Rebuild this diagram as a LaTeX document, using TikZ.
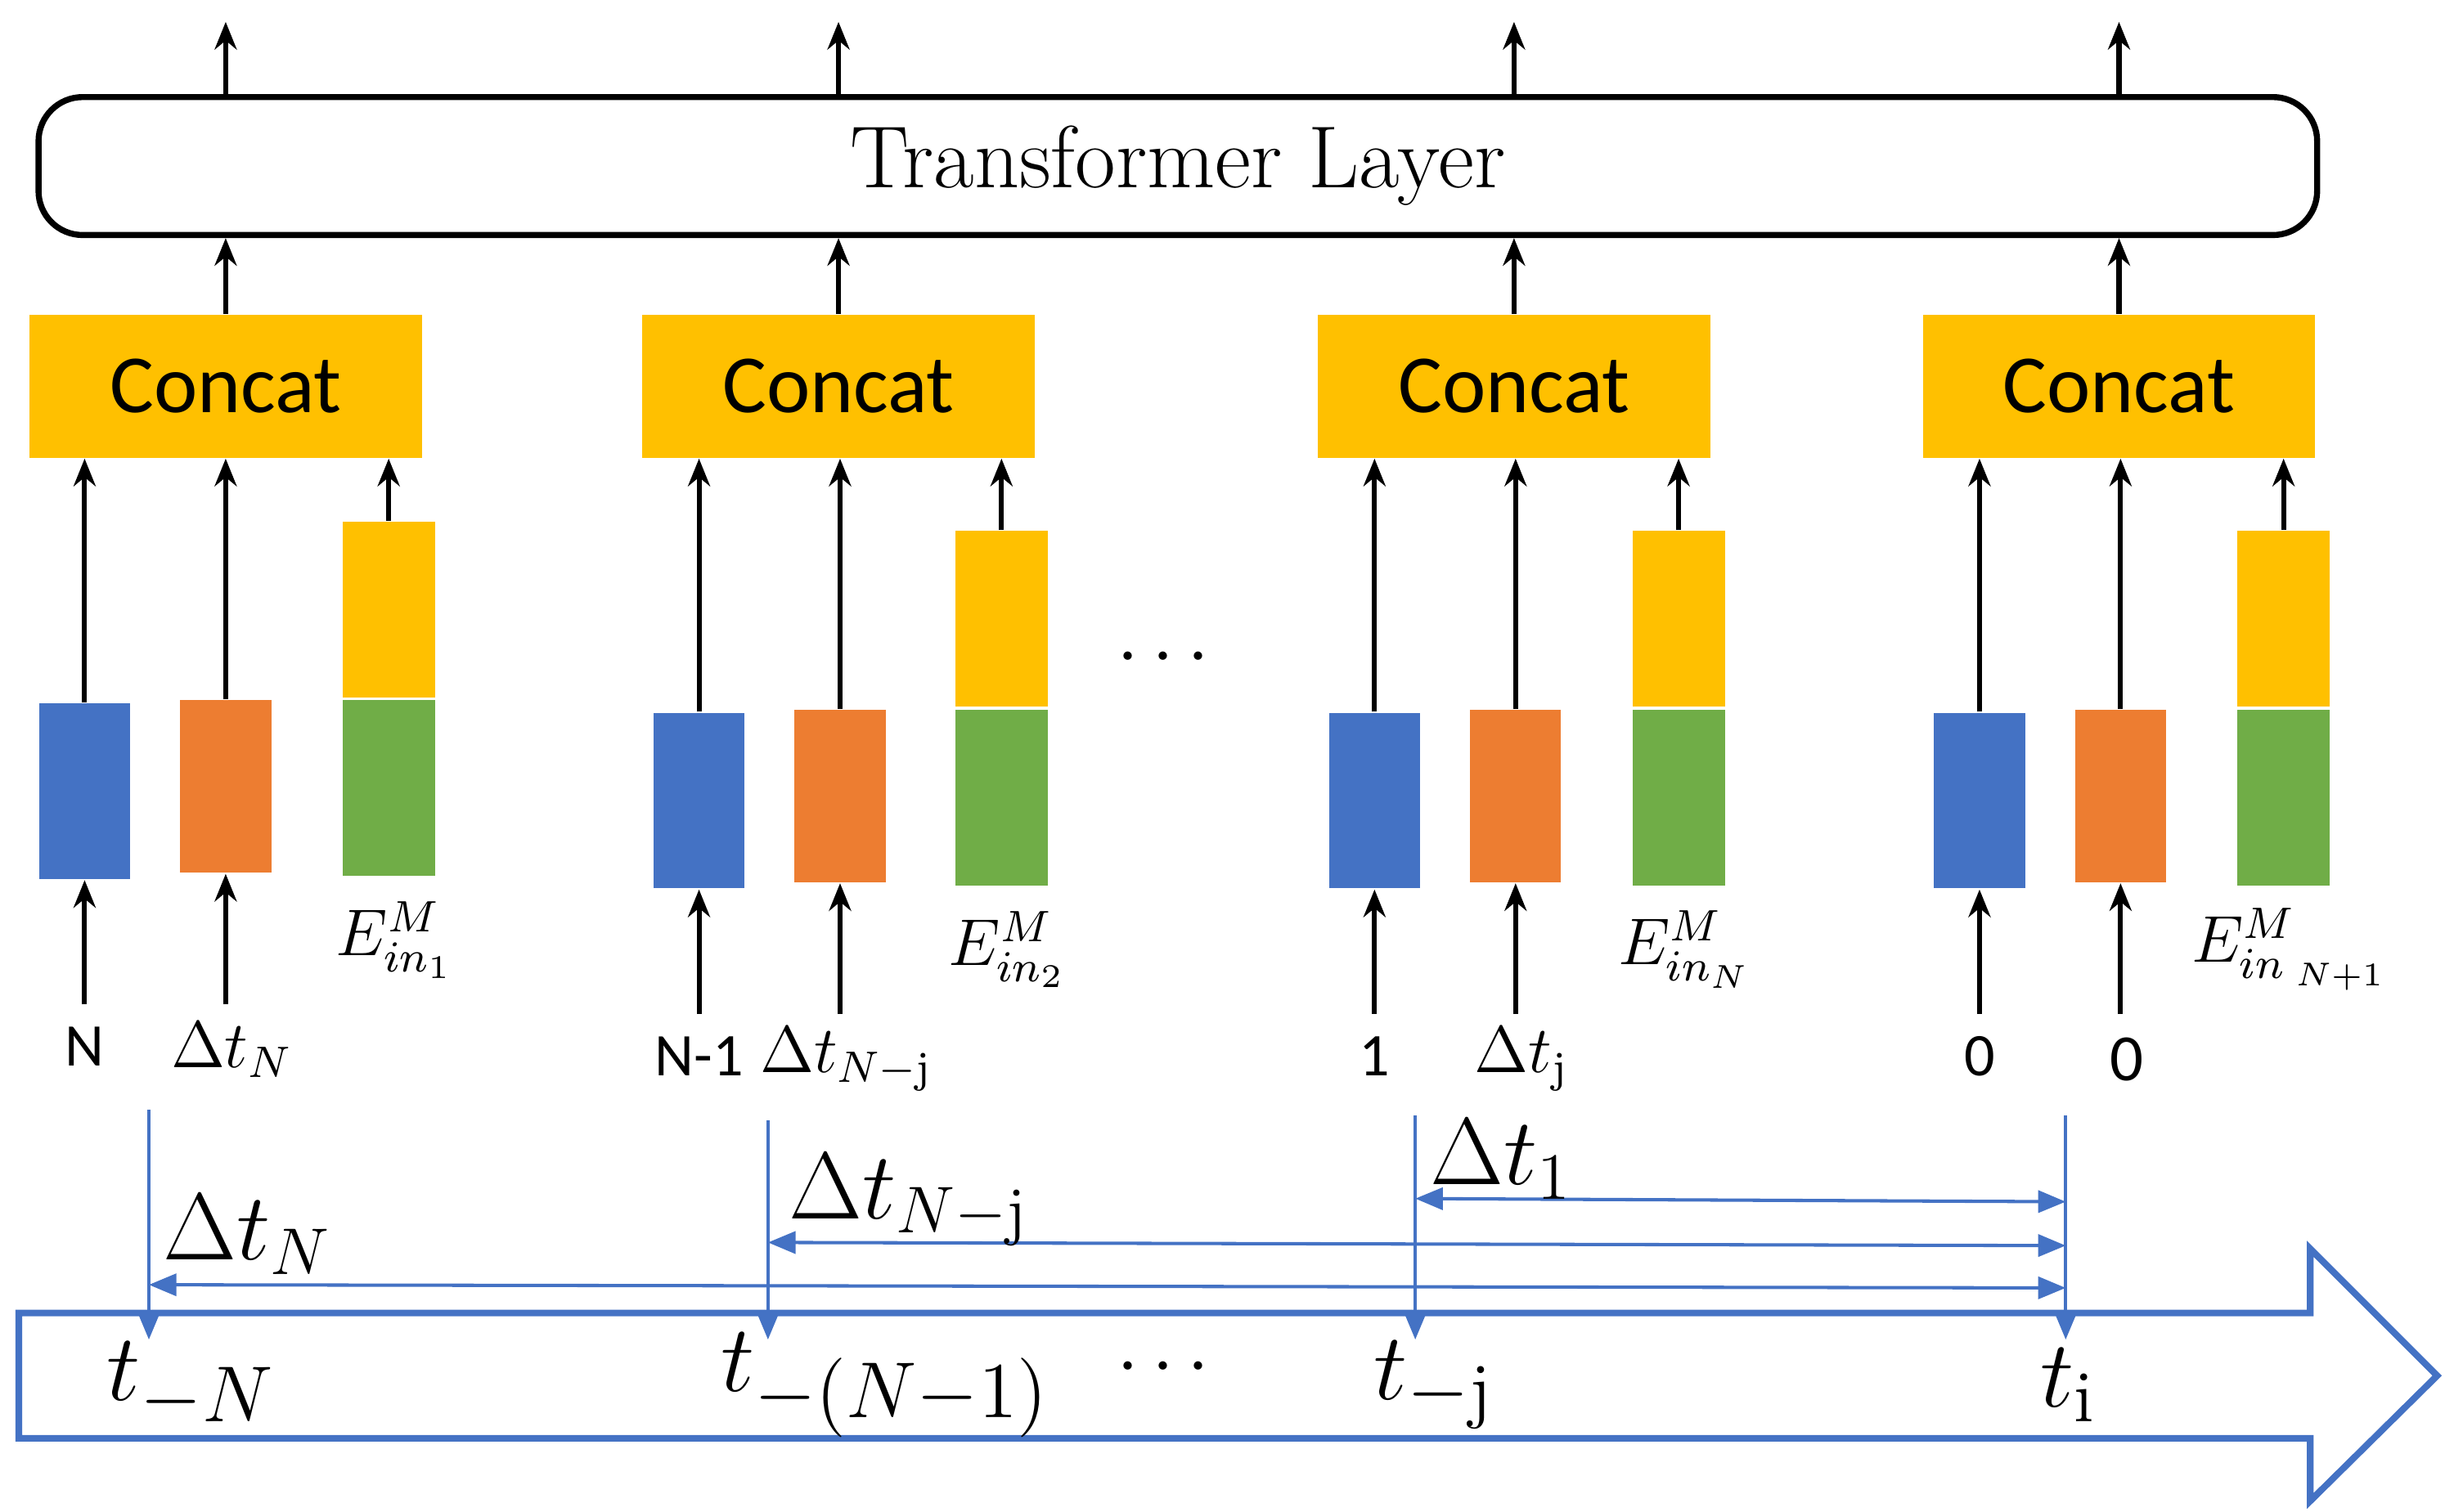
\documentclass[tikz,border=0pt]{standalone}
\usepackage{fontspec}
\newfontfamily\calfont{Carlito}
\usetikzlibrary{arrows.meta}
\definecolor{cblue}{HTML}{4472C4}
\definecolor{corange}{HTML}{ED7D31}
\definecolor{cyellow}{HTML}{FFC000}
\definecolor{cgreen}{HTML}{70AD47}
\begin{document}
\begin{tikzpicture}[x=0.01cm,y=-0.01cm,
  ar/.style={-{Stealth[length=5pt,width=4pt]},line width=0.9pt},
  bt/.style={-{Triangle[length=5pt,width=4pt]},cblue,line width=0.6pt},
  bb/.style={{Triangle[length=5pt,width=4pt]}-{Triangle[length=5pt,width=4pt]},cblue,line width=0.6pt},
  cc/.style={fill=cyellow,draw=none,minimum width=2.5cm,minimum height=0.91cm,font=\calfont\fontsize{15}{15}\selectfont},
  sq/.style={draw=none,minimum width=0.58cm,inner sep=0},
  lab/.style={font=\calfont\fontsize{11}{11}\selectfont},
  ml/.style={font=\fontsize{12}{12}\selectfont},
  bl/.style={font=\fontsize{17}{17}\selectfont},
  tl/.style={font=\fontsize{19}{19}\selectfont}]
\useasboundingbox (0,0) rectangle (1560,965);
% timeline arrow
\draw[cblue,line width=1.2pt] (12,838) -- (1474,838) -- (1474,797) -- (1555,878) -- (1474,958) -- (1474,918) -- (12,918) -- cycle;
% transformer
\node[draw,rounded corners=8pt,line width=1.1pt,minimum width=14.53cm,minimum height=0.88cm,font=\fontsize{16}{16}\selectfont] (tf) at (751.5,106) {Transformer\ Layer};
\foreach \i/\cx in {1/144,2/535,3/966,4/1352}{
  \node[cc] (c\i) at (\cx,246.5) {Concat};
  \coordinate (o\i) at (\cx,14);
  \draw[ar] (c\i.north) -- (tf.south -| c\i.north);
  \draw[ar] (tf.north -| c\i.north) -- (o\i);
}
% group squares
\def\grp#1#2#3#4#5#6#7#8{%
  \node[sq,fill=cblue,minimum height=1.12cm] (b#1) at (#2,505+#5) {};
  \node[sq,fill=corange,minimum height=1.10cm] (r#1) at (#3,502+#5) {};
  \node[sq,fill=cyellow,minimum height=1.12cm,minimum width=0.59cm] (y#1) at (#4,389+#5) {};
  \node[sq,fill=cgreen,minimum height=1.12cm,minimum width=0.59cm] (g#1) at (#4,503+#5) {};
  \node[lab] (la#1) at (#2,668+#5) {#6};
  \node[ml] (lb#1) at (#3+4,670+#5) {#7};
  \node[ml] (e#1) at (#4+4,600+#5) {#8};
  \coordinate (sa#1) at (#2,641+#5);
  \coordinate (sb#1) at (#3,641+#5);
  \draw[ar] (b#1.north) -- (c#1.south -| b#1.north);
  \draw[ar] (r#1.north) -- (c#1.south -| r#1.north);
  \draw[ar] (y#1.north) -- (c#1.south -| y#1.north);
  \draw[ar] (sa#1) -- (b#1.south);
  \draw[ar] (sb#1) -- (r#1.south);
}
\grp{1}{54}{144}{248}{0}{N}{$\Delta t_N$}{$E^{M}_{in_{\scriptscriptstyle 1}}$}
\grp{2}{446}{536}{639}{6}{N-1}{$\Delta t_{N-\mathrm{j}}$}{$E^{M}_{in_2}$}
\grp{3}{877}{967}{1071}{6}{1}{$\Delta t_{\mathrm{j}}$}{$E^{M}_{in_N}$}
\grp{4}{1263}{1353}{1457}{6}{0}{{\calfont 0}}{$E^{M}_{in_{\;N+1}}$}
\node[font=\fontsize{14}{14}\selectfont] (d1) at (742,420) {$\cdots$};
% timeline ticks
\coordinate (v1) at (95,708); \coordinate (p1) at (95,855);
\coordinate (v2) at (490,715); \coordinate (p2) at (490,855);
\coordinate (v3) at (903,712); \coordinate (p3) at (903,855);
\coordinate (v4) at (1318,712); \coordinate (p4) at (1318,855);
\foreach \k in {1,2,3,4}{\draw[bt] (v\k) -- (p\k);}
\coordinate (h1a) at (95,820); \coordinate (h1b) at (1318,822);
\coordinate (h2a) at (490,793); \coordinate (h2b) at (1318,795);
\coordinate (h3a) at (903,765); \coordinate (h3b) at (1318,767);
\draw[bb] (h1a) -- (h1b);
\draw[bb] (h2a) -- (h2b);
\draw[bb] (h3a) -- (h3b);
\node[bl] (dN) at (158,788) {$\Delta t_N$};
\node[bl] (dNj) at (580,766) {$\Delta t_{N-\mathrm{j}}$};
\node[bl] (d1b) at (958,740) {$\Delta t_1$};
\node[tl] (t1) at (122,884) {$t_{-N}$};
\node[tl] (t2) at (565,884) {$t_{-(N-1)}$};
\node[font=\fontsize{14}{14}\selectfont] (d2) at (742,873) {$\cdots$};
\node[tl] (t3) at (915,884) {$t_{-\mathrm{j}}$};
\node[tl] (t4) at (1320,884) {$t_{\mathrm{i}}$};
\end{tikzpicture}
\end{document}
